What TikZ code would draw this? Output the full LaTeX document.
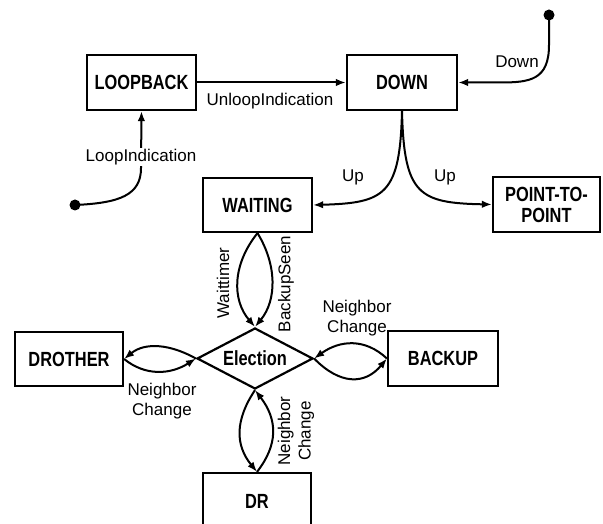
\documentclass[tikz,border=0pt]{standalone}
\usepackage{fontspec}
\setmainfont{Liberation Sans}
\newfontfamily\boxfont[FakeStretch=0.8]{Liberation Sans}
\usetikzlibrary{arrows.meta,shapes.geometric}
\begin{document}
\begin{tikzpicture}[x=1pt,y=-1pt,
  state/.style={draw, line width=2.2pt, inner sep=0pt, align=center,
    font=\boxfont\bfseries\fontsize{20.5}{21}\selectfont},
  lbl/.style={inner sep=1pt, align=center, font=\fontsize{17}{20.5}\selectfont},
  edge/.style={line width=2pt, -{Latex[length=10pt,width=7.5pt]}},
  srcdot/.style={fill=black}
]
\useasboundingbox (0,0) rectangle (603,524);
\clip (0,0) rectangle (603,524);

% states
\node[state, minimum width=109pt, minimum height=55pt] (loop) at (141.5,82.5) {LOOPBACK};
\node[state, minimum width=110pt, minimum height=55pt] (down) at (402,82.5) {DOWN};
\node[state, minimum width=109pt, minimum height=54pt] (wait) at (257.5,205) {WAITING};
\node[state, minimum width=107pt, minimum height=55pt] (p2p) at (546.5,204.5) {POINT-TO-\\POINT};
\node[state, minimum width=108pt, minimum height=54pt] (drother) at (69,359) {DROTHER};
\node[state, minimum width=110pt, minimum height=55pt] (backup) at (443,358.5) {BACKUP};
\node[state, minimum width=108pt, minimum height=56pt] (dr) at (257,501) {DR};
\node[state, shape=diamond, aspect=1.9, minimum width=116pt, minimum height=61pt] (elec) at (255,358.5) {Election};

% external event sources
\coordinate (srcloop) at (75,205);
\coordinate (srcdown) at (549,15);
\fill[srcdot] (srcloop) circle[radius=5.5pt];
\fill[srcdot] (srcdown) circle[radius=5.5pt];

% LOOPBACK / DOWN
\draw[edge] (loop) -- (down);
\node[lbl] at (270,101) {UnloopIndication};

\draw[edge] (srcloop) .. controls (120,203) and (141,195) .. (141,168) -- (loop.south);
\node[lbl, fill=white] at (141,157) {LoopIndication};

\draw[edge] (srcdown) -- (549,45) .. controls (549,80) and (530,82.5) .. (500,82.5) -- (down.east);
\node[lbl] at (517,62) {Down};

% Up transitions
\draw[edge] (down.south) .. controls (400,195) and (385,203) .. (wait.east);
\draw[edge] (down.south) .. controls (404,195) and (419,203) .. (p2p.west);
\node[lbl] at (353,177) {Up};
\node[lbl] at (445,177) {Up};

% WAITING to Election
\draw[edge] (wait.south) .. controls (232,265) and (232,300) .. (elec.north);
\draw[edge] (wait.south) .. controls (277,265) and (277,300) .. (elec.north);
\node[lbl, rotate=90] at (223,283) {Waittimer};
\node[lbl, rotate=90] at (286,284) {BackupSeen};

% Election and DR
\draw[edge] (elec.south) .. controls (235,420) and (235,445) .. (dr.north);
\draw[edge] (dr.north) .. controls (278,445) and (278,420) .. (elec.south);
\node[lbl, rotate=90] at (296,431) {Neighbor\\Change};

% Election and DROTHER
\draw[edge] (elec.west) .. controls (170,344) and (145,342) .. (drother.east);
\draw[edge] (drother.east) .. controls (145,376) and (170,375) .. (elec.west);
\node[lbl] at (162,401) {Neighbor\\Change};

% Election and BACKUP
\draw[edge] (backup.west) .. controls (365,338) and (340,340) .. (elec.east);
\draw[edge] (elec.east) .. controls (340,385) and (365,385) .. (backup.west);
\node[lbl] at (357,318) {Neighbor\\Change};
\end{tikzpicture}
\end{document}
